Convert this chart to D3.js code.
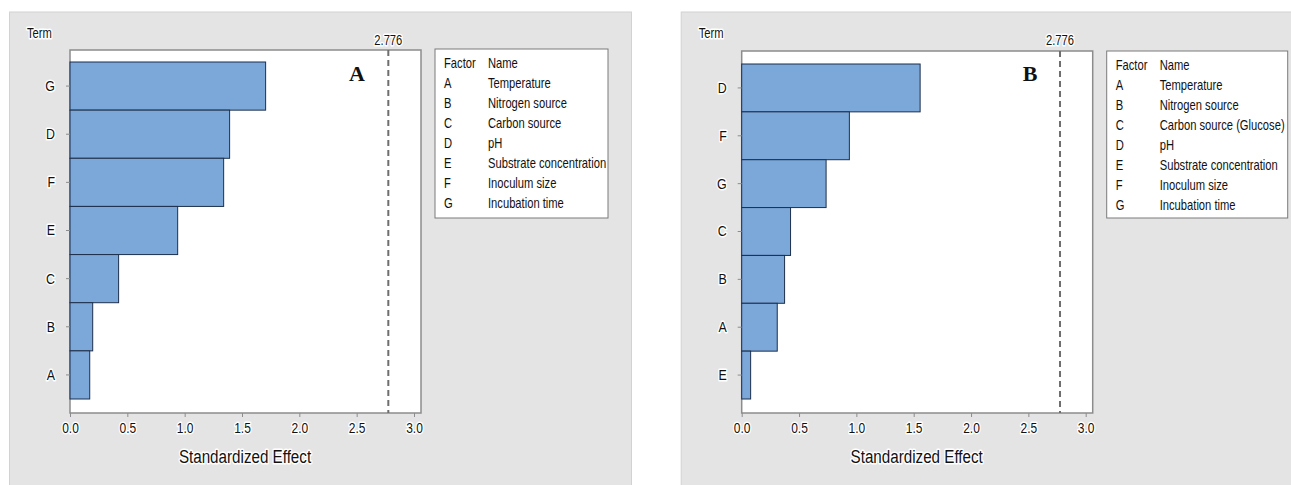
<!DOCTYPE html>
<html>
<head>
<meta charset="utf-8">
<script src="https://cdn.jsdelivr.net/npm/d3@7"></script>
<style>
  html, body { margin: 0; padding: 0; background: #ffffff; }
  svg { display: block; }
  text { font-family: "Liberation Sans", Arial, sans-serif; fill: #111; }
  .halo { paint-order: stroke; stroke: #ffffff; stroke-width: 3px; stroke-linejoin: round; }
</style>
</head>
<body>
<svg id="chart" width="1291" height="485"></svg>
<script>
// Pareto charts of standardized effects for two screening designs
const criticalValue = 2.776;
const xTicks = [0, 0.5, 1.0, 1.5, 2.0, 2.5, 3.0];

const termsA = ["G", "D", "F", "E", "C", "B", "A"];
const effectsA = [1.706, 1.392, 1.34, 0.939, 0.424, 0.198, 0.172];

const termsB = ["D", "F", "G", "C", "B", "A", "E"];
const effectsB = [1.556, 0.939, 0.736, 0.426, 0.374, 0.31, 0.078];

const factorCodes = ["A", "B", "C", "D", "E", "F", "G"];
const factorNamesA = ["Temperature", "Nitrogen source", "Carbon source", "pH",
  "Substrate concentration", "Inoculum size", "Incubation time"];
const factorNamesB = ["Temperature", "Nitrogen source", "Carbon source (Glucose)", "pH",
  "Substrate concentration", "Inoculum size", "Incubation time"];

// horizontal squeeze applied to all lettering (narrow sans look)
const SQ = 0.8;

const svg = d3.select("#chart");

// places a text at (x, y) with a condensed horizontal scale
function narrowText(parent, x, y, str, size, anchor) {
  return parent.append("text")
    .attr("transform", `translate(${x},${y}) scale(${SQ},1)`)
    .attr("text-anchor", anchor || "start")
    .attr("font-size", size)
    .text(str);
}

function drawPanel(cfg) {
  const g = svg.append("g").attr("transform", `translate(${cfg.dx},0)`);

  // panel background
  g.append("rect")
    .attr("x", 9.5).attr("y", 12).attr("width", cfg.panelW).attr("height", 480)
    .attr("fill", "#e4e4e4").attr("stroke", "#d2d2d2").attr("stroke-width", 1);

  const left = 70, right = 421, top = cfg.top, bottom = 413;
  const x = d3.scaleLinear().domain([0, 3]).range([70, 414]);
  const y = d3.scaleBand().domain(cfg.terms).range([cfg.barTop, 399]).padding(0);

  // plot area
  g.append("rect")
    .attr("x", left).attr("y", top).attr("width", right - left).attr("height", bottom - top)
    .attr("fill", "#ffffff").attr("stroke", "#8c8c8c").attr("stroke-width", 1.5);

  // bars
  g.selectAll("rect.bar").data(cfg.terms).enter().append("rect")
    .attr("class", "bar")
    .attr("x", x(0))
    .attr("y", d => y(d))
    .attr("width", (d, i) => x(cfg.effects[i]) - x(0))
    .attr("height", y.bandwidth())
    .attr("fill", "#7ba7d9")
    .attr("stroke", "#1d2f4a").attr("stroke-width", 1);

  // reference line at the critical value
  g.append("line")
    .attr("x1", x(criticalValue)).attr("x2", x(criticalValue))
    .attr("y1", top).attr("y2", bottom)
    .attr("stroke", "#6e6e6e").attr("stroke-width", 2).attr("stroke-dasharray", "6,4");

  narrowText(g, x(criticalValue), 45, d3.format(".3f")(criticalValue), 14, "middle")
    .attr("class", "halo");

  // x axis
  const xAxis = d3.axisBottom(x).tickValues(xTicks).tickFormat(d3.format(".1f")).tickSize(4).tickPadding(5);
  const xa = g.append("g").attr("transform", `translate(0,${bottom})`).call(xAxis);
  xa.select(".domain").remove();
  xa.selectAll(".tick line").attr("stroke", "#8c8c8c");
  xa.selectAll(".tick text").attr("class", "halo")
    .attr("font-family", null).attr("font-size", null)
    .style("font-size", "15px").style("fill", "#111")
    .attr("transform", `scale(${SQ},1)`);

  // y axis
  const yAxis = d3.axisLeft(y).tickSize(4).tickPadding(11);
  const ya = g.append("g").attr("transform", `translate(${left},0)`).call(yAxis);
  ya.select(".domain").remove();
  ya.selectAll(".tick line").attr("stroke", "#8c8c8c");
  ya.selectAll(".tick text").attr("class", "halo")
    .attr("font-family", null)
    .style("font-size", "15.5px").style("fill", "#111")
    .attr("x", -15 / SQ)
    .attr("transform", `scale(${SQ},1)`);

  narrowText(g, 27, 38, "Term", 14).attr("class", "halo");

  narrowText(g, 245, 463, "Standardized Effect", 19, "middle").attr("class", "halo");

  // panel letter
  g.append("text")
    .attr("x", cfg.letterX).attr("y", 81).attr("text-anchor", "middle")
    .style("font-family", "'Liberation Serif', 'DejaVu Serif', serif")
    .attr("font-weight", "bold").attr("font-size", 22)
    .text(cfg.letter);

  // factor key
  const lg = g.append("g").attr("transform", `translate(435,${cfg.legendTop})`);
  lg.append("rect")
    .attr("x", 0).attr("y", 0).attr("width", cfg.legendW).attr("height", 218 - cfg.legendTop)
    .attr("fill", "#ffffff").attr("stroke", "#7a7a7a").attr("stroke-width", 1);
  const rowY = i => cfg.rowTop + i * 20;
  narrowText(lg, 9, rowY(0), "Factor", 14);
  narrowText(lg, 53, rowY(0), "Name", 14);
  factorCodes.forEach((c, i) => {
    narrowText(lg, 9, rowY(i + 1), c, 14);
    narrowText(lg, 53, rowY(i + 1), cfg.names[i], 14);
  });
}

drawPanel({
  dx: 0, panelW: 622, top: 50, barTop: 62,
  terms: termsA, effects: effectsA, names: factorNamesA,
  letter: "A", letterX: 357, legendTop: 49, legendW: 173, rowTop: 19
});

drawPanel({
  dx: 671.7, panelW: 622, top: 51, barTop: 64,
  terms: termsB, effects: effectsB, names: factorNamesB,
  letter: "B", letterX: 358.5, legendTop: 51, legendW: 181, rowTop: 19
});
</script>
</body>
</html>
